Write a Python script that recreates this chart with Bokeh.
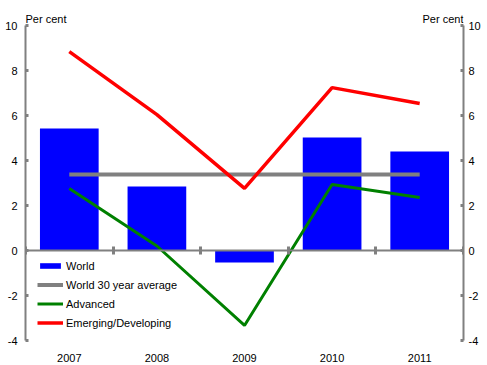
from bokeh.plotting import figure
from bokeh.models import Range1d, LinearAxis, FixedTicker, Label, Legend, LegendItem
from bokeh.embed import file_html
from bokeh.resources import INLINE

years = ["2007", "2008", "2009", "2010", "2011"]
world = [5.42, 2.84, -0.53, 5.02, 4.4]
world_avg = [3.38, 3.38, 3.38, 3.38, 3.38]
advanced = [2.76, 0.2, -3.33, 2.93, 2.36]
emerging = [8.84, 6.04, 2.76, 7.24, 6.53]
y_ticks = [-4, -2, 0, 2, 4, 6, 8, 10]

FONT = "Liberation Sans"
FS = "11px"
GRAY = "#808080"

x = list(range(len(years)))
boundaries = [i - 0.5 for i in range(len(years) + 1)]

p = figure(width=487, height=365, x_range=Range1d(-0.5, len(years) - 0.5),
           y_range=Range1d(-4, 10.8), output_backend="svg", toolbar_location=None,
           min_border_left=25, min_border_right=24, min_border_top=7,
           min_border_bottom=25)
p.grid.visible = False
p.outline_line_color = None
p.background_fill_color = "white"
p.border_fill_color = "white"

# bottom axis: year labels only
xa = p.xaxis[0]
xa.ticker = FixedTicker(ticks=x)
xa.major_label_overrides = {i: y for i, y in zip(x, years)}
xa.axis_line_color = None
xa.major_tick_line_color = None
xa.minor_tick_line_color = None
xa.major_label_standoff = 7
xa.major_label_text_font = FONT
xa.major_label_text_font_size = FS
xa.major_label_text_color = "black"

# zero line axis with category boundary ticks
za = LinearAxis(ticker=FixedTicker(ticks=boundaries), fixed_location=0)
za.axis_line_color = GRAY
za.axis_line_width = 2
za.major_tick_line_color = GRAY
za.major_tick_line_width = 3
za.major_tick_in = 4
za.major_tick_out = 4
za.minor_tick_line_color = None
za.major_label_text_color = None
za.major_label_standoff = 0
za.major_label_text_font_size = "1px"
p.add_layout(za, "above")

def style_y(ax, standoff):
    ax.ticker = FixedTicker(ticks=y_ticks)
    ax.bounds = (y_ticks[0], y_ticks[-1])
    ax.major_label_overrides = {t: str(t) for t in y_ticks}
    ax.axis_line_color = GRAY
    ax.axis_line_width = 2
    ax.major_tick_line_color = GRAY
    ax.major_tick_line_width = 3
    ax.major_tick_in = 3
    ax.major_tick_out = 0
    ax.minor_tick_line_color = None
    ax.major_label_standoff = standoff
    ax.major_label_text_font = FONT
    ax.major_label_text_font_size = FS
    ax.major_label_text_color = "black"

style_y(p.yaxis[0], 8)
ra = LinearAxis()
style_y(ra, 5)
p.add_layout(ra, "right")

bars = p.vbar(x=x, top=world, width=0.67, fill_color="#0000FF", line_color=None)
avg = p.line(x, world_avg, line_color=GRAY, line_width=4)
adv = p.line(x, advanced, line_color="#008000", line_width=3)
emg = p.line(x, emerging, line_color="#FF0000", line_width=3.5)

legend = Legend(items=[
    LegendItem(label="World", renderers=[bars]),
    LegendItem(label="World 30 year average", renderers=[avg]),
    LegendItem(label="Advanced", renderers=[adv]),
    LegendItem(label="Emerging/Developing", renderers=[emg]),
], location=(12, 10), glyph_width=26, glyph_height=7, label_height=15,
    spacing=4, padding=0, margin=0, label_standoff=3,
    label_text_font=FONT, label_text_font_size=FS, label_text_color="black",
    border_line_color=None, background_fill_alpha=0)
p.add_layout(legend, "center")

p.add_layout(Label(x=-0.5, y=10, text="Per cent", text_align="left",
                   text_baseline="alphabetic", y_offset=7, text_font=FONT,
                   text_font_size=FS, text_color="black"))
p.add_layout(Label(x=len(years) - 0.5, y=10, text="Per cent", text_align="right",
                   text_baseline="alphabetic", y_offset=7, text_font=FONT,
                   text_font_size=FS, text_color="black"))

open("out.html", "w").write(file_html(p, INLINE))
